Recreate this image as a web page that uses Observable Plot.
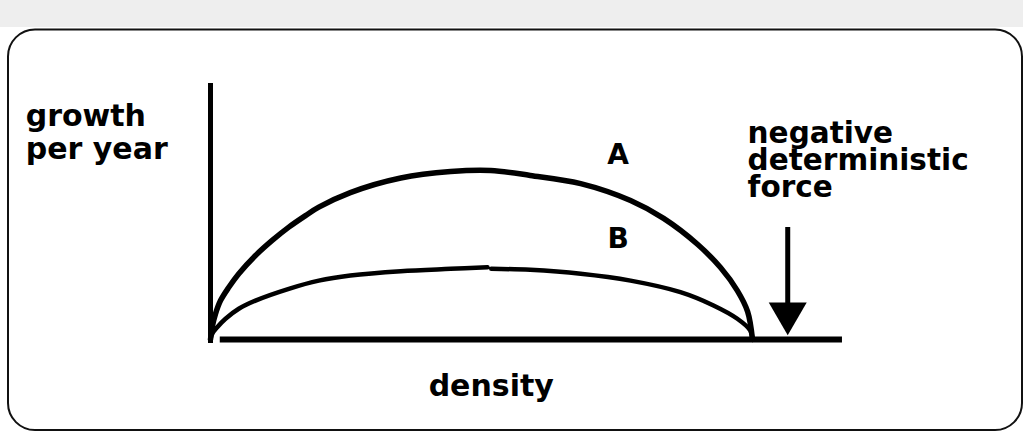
<!DOCTYPE html>
<html>
<head>
<meta charset="utf-8">
<script src="https://cdn.jsdelivr.net/npm/d3@7"></script>
<script src="https://cdn.jsdelivr.net/npm/@observablehq/plot@0.6"></script>
<style>
  html, body { margin: 0; padding: 0; background: #fff; }
  #chart svg { display: block; }
</style>
</head>
<body>
<div id="chart"></div>
<script>
// Curve A (density vs growth per year)
const densityA = [0, 0.31, 0.92, 1.85, 3.38, 5.22, 8.30, 11.38, 14.45, 17.53, 19.98, 25.8, 35.1, 44.3, 51.7, 59.0, 68.3, 77.5, 83.6, 89.9, 94.1, 97.2, 99.1, 100];
const growthA  = [0, 4.8, 10.0, 15.2, 20.4, 25.7, 32.8, 38.7, 43.9, 48.4, 51.7, 57.4, 63.1, 65.6, 66.0, 64.1, 60.9, 54.3, 47.3, 37.1, 28.1, 19.1, 10.9, 0];

// Curve B (with the small break in the middle of the original drawing)
const densityB = [0, 0.31, 1.24, 2.77, 5.22, 8.30, 14.45, 19.98, 25.8, 35.1, 44.3, 51.1, 51.5, 51.8, 59.0, 68.3, 77.5, 86.7, 92.8, 97.2, 99.6, 100];
const growthB  = [0, 2.2, 4.8, 8.1, 12.0, 15.2, 19.8, 23.0, 25.0, 26.7, 27.6, 28.2, null, 27.6, 27.2, 25.7, 23.0, 18.5, 13.3, 8.1, 3.5, 0];

// Axes extents (data units)
const yAxisExtent = [-1.6, 100];
const xAxisExtent = [1.8, 116.6];

// Negative deterministic force arrow
const forceDensity = [106.5];
const forceShaft = [43.75, 14];
const forceHead = [10.2];

// Labels
const labelTexts = ["growth\nper year", "negative\ndeterministic\nforce", "A", "B", "density"];
const labelDensity = [-34.1, 99.1, 75.2, 75.2, 51.8];
const labelGrowth  = [70.7, 55.5, 68.75, 35.9, -21.9];

const curveA = densityA.map((d, i) => ({density: d, growth: growthA[i]}));
const curveB = densityB.map((d, i) => ({density: d, growth: growthB[i]}));
const labels = labelTexts.map((t, i) => ({text: t, density: labelDensity[i], growth: labelGrowth[i]}));

const chart = Plot.plot({
  width: 1023,
  height: 431,
  marginLeft: 7.5,
  marginTop: 29,
  marginRight: 1.5,
  marginBottom: 1.5,
  x: {domain: [0, 100], range: [210, 752], axis: null},
  y: {domain: [0, 100], range: [339, 83], axis: null},
  style: {
    fontFamily: "DejaVu Sans",
    background: "linear-gradient(to bottom, #eeeeee 0px, #eeeeee 27px, #ffffff 27px)",
    overflow: "visible"
  },
  marks: [
    Plot.frame({stroke: "#111", strokeWidth: 2, rx: 27}),
    // y axis line
    Plot.ruleX([0], {y1: yAxisExtent[0], y2: yAxisExtent[1], stroke: "#000", strokeWidth: 5}),
    // x axis line
    Plot.ruleY([0], {x1: xAxisExtent[0], x2: xAxisExtent[1], stroke: "#000", strokeWidth: 6}),
    // curves
    Plot.line(curveA, {x: "density", y: "growth", stroke: "#000", strokeWidth: 5.5, curve: "catmull-rom"}),
    Plot.line(curveB, {x: "density", y: "growth", stroke: "#000", strokeWidth: 4.5, curve: "catmull-rom"}),
    // arrow shaft + head
    Plot.ruleX(forceDensity, {y1: forceShaft[0], y2: forceShaft[1], stroke: "#000", strokeWidth: 5}),
    Plot.dot(forceDensity, {x: d => d, y: forceHead, symbol: "triangle", r: 14.1, rotate: 180, fill: "#000", stroke: "none"}),
    // labels
    Plot.text(labels.filter(d => d.text.startsWith("growth")), {
      x: "density", y: "growth", text: "text",
      textAnchor: "start", lineAnchor: "bottom", lineHeight: 1.1,
      fontSize: 30, fontWeight: "bold", fill: "#000"
    }),
    Plot.text(labels.filter(d => d.text.startsWith("negative")), {
      x: "density", y: "growth", text: "text",
      textAnchor: "start", lineAnchor: "bottom", lineHeight: 0.93,
      fontSize: 29.5, fontWeight: "bold", fill: "#000"
    }),
    Plot.text(labels.filter(d => d.text === "A" || d.text === "B"), {
      x: "density", y: "growth", text: "text",
      textAnchor: "middle", lineAnchor: "bottom",
      fontSize: 28, fontWeight: "bold", fill: "#000"
    }),
    Plot.text(labels.filter(d => d.text === "density"), {
      x: "density", y: "growth", text: "text",
      textAnchor: "middle", lineAnchor: "bottom",
      fontSize: 30, fontWeight: "bold", fill: "#000"
    })
  ]
});
document.getElementById("chart").appendChild(chart);
</script>
</body>
</html>
